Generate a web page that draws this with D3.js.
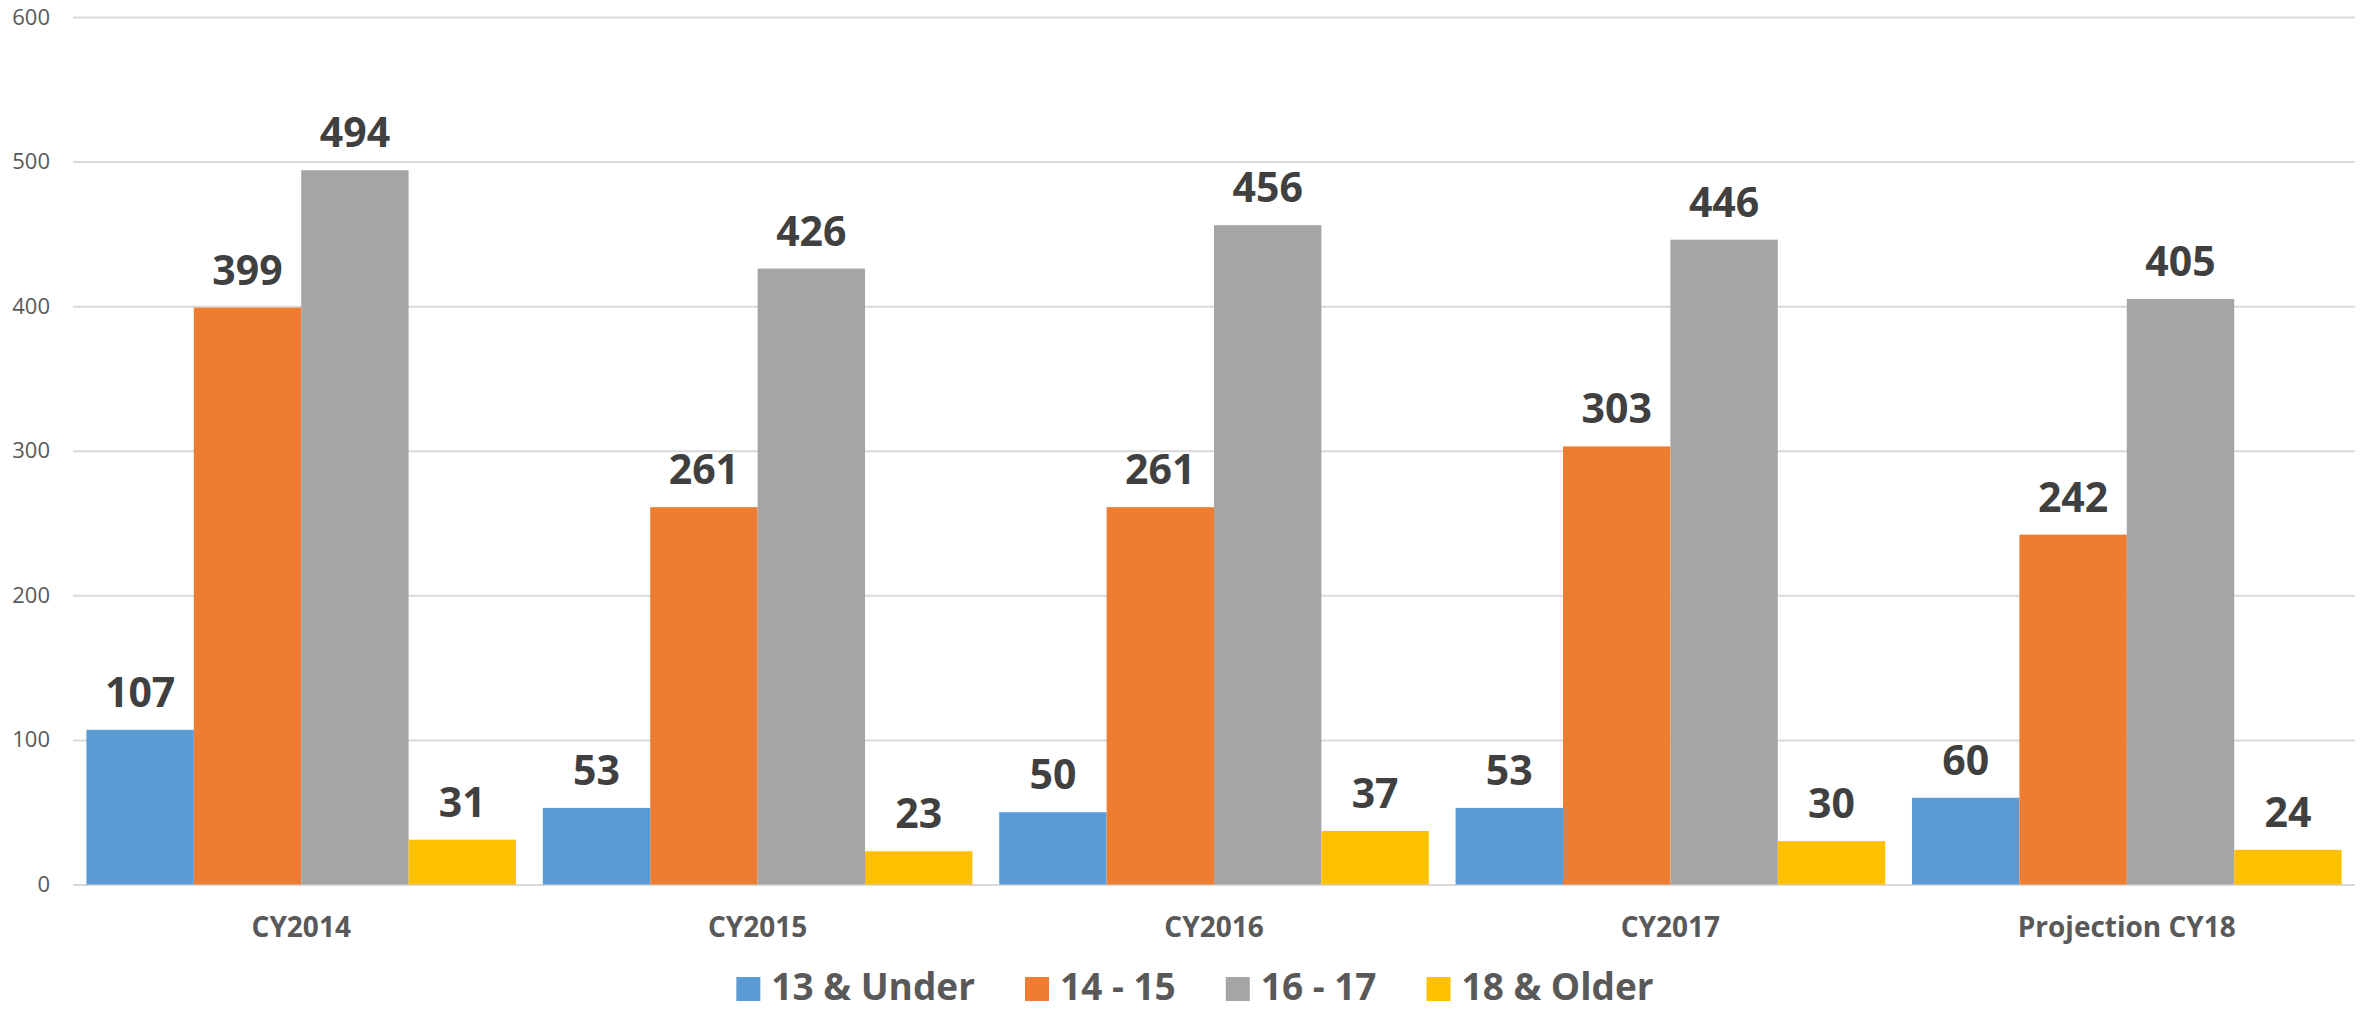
<!DOCTYPE html>
<html lang="en">
<head>
    <meta charset="UTF-8">
    <title>Age groups by year</title>
    <script src="https://d3js.org/d3.v7.min.js"></script>
    <style>
        body{ margin:0; background:#fff; }
        text{ font-family:"Open Sans", sans-serif; }
    </style>
</head>
<body>
<svg width="2369" height="1011"></svg>
<script>
    // step 1: data
    const categories = ["CY2014", "CY2015", "CY2016", "CY2017", "Projection CY18"];
    const seriesNames = ["13 & Under", "14 - 15", "16 - 17", "18 & Older"];
    const under13 = [107, 53, 50, 53, 60];
    const age14to15 = [399, 261, 261, 303, 242];
    const age16to17 = [494, 426, 456, 446, 405];
    const older18 = [31, 23, 37, 30, 24];
    const yTicks = [0, 100, 200, 300, 400, 500, 600];
    const colors = ["#5B9BD5", "#ED7D31", "#A5A5A5", "#FFC000"];

    const seriesValues = [under13, age14to15, age16to17, older18];
    let data = categories.map((c, i) => ({
        cat: c,
        values: seriesValues.map((s, j) => ({key: seriesNames[j], value: s[i]}))
    }));

    // step 2: environment
    let svg = d3.select('svg');
    const plotLeft = 73, plotRight = 2355, plotTop = 17, plotBottom = 884.5;

    let x0 = d3.scaleBand()
        .domain(categories)
        .range([plotLeft, plotRight])
        .paddingInner(0.0587)
        .paddingOuter(0.0294);
    let x1 = d3.scaleBand()
        .domain(seriesNames)
        .range([0, x0.bandwidth()]);
    let yScale = d3.scaleLinear()
        .domain([0, 600])
        .range([plotBottom, plotTop]);
    let color = d3.scaleOrdinal().domain(seriesNames).range(colors);

    // gridlines + y tick labels
    let yAxis = svg.append("g")
        .attr("transform", `translate(${plotLeft},0)`)
        .call(d3.axisLeft(yScale).tickValues(yTicks).tickSize(-(plotRight - plotLeft)).tickPadding(23));
    yAxis.select(".domain").remove();
    yAxis.selectAll("line").attr("stroke", "#d9d9d9").attr("stroke-width", 2);
    yAxis.selectAll("text")
        .attr("fill", "#595959")
        .style("font-size", "22px");

    // bars
    let groups = svg.append("g").selectAll("g")
        .data(data)
        .enter()
        .append("g")
        .attr("transform", d => `translate(${x0(d.cat)},0)`);

    groups.selectAll("rect")
        .data(d => d.values)
        .enter()
        .append("rect")
        .attr("x", d => x1(d.key))
        .attr("y", d => yScale(d.value))
        .attr("width", x1.bandwidth())
        .attr("height", d => plotBottom - yScale(d.value))
        .attr("fill", d => color(d.key));

    // value labels
    groups.selectAll("text.val")
        .data(d => d.values)
        .enter()
        .append("text")
        .attr("class", "val")
        .attr("x", d => x1(d.key) + x1.bandwidth() / 2)
        .attr("y", d => yScale(d.value) - 23)
        .attr("text-anchor", "middle")
        .attr("fill", "#404040")
        .style("font-size", "41px")
        .style("font-weight", "bold")
        .text(d => d.value);

    // category axis
    let xAxis = svg.append("g")
        .attr("transform", `translate(0,${plotBottom})`)
        .call(d3.axisBottom(x0).tickSize(0).tickPadding(0));
    xAxis.select(".domain").remove();
    xAxis.selectAll("text")
        .attr("dy", null)
        .attr("y", 52)
        .attr("fill", "#595959")
        .style("font-size", "28px")
        .style("font-weight", "bold");

    // legend
    let legend = svg.append("g");
    let items = legend.selectAll("g")
        .data(seriesNames)
        .enter()
        .append("g");
    items.append("rect")
        .attr("y", 977)
        .attr("width", 24)
        .attr("height", 24)
        .attr("fill", d => color(d));
    items.append("text")
        .attr("x", 35)
        .attr("y", 1000)
        .attr("fill", "#595959")
        .style("font-size", "37px")
        .style("font-weight", "bold")
        .text(d => d);

    const gap = 50;
    let pos = 0, offsets = [];
    items.each(function () {
        offsets.push(pos);
        pos += 35 + d3.select(this).select("text").node().getComputedTextLength() + gap;
    });
    let total = pos - gap;
    let start = 1195 - total / 2;
    items.attr("transform", (d, i) => `translate(${start + offsets[i]},0)`);
</script>
</body>
</html>
